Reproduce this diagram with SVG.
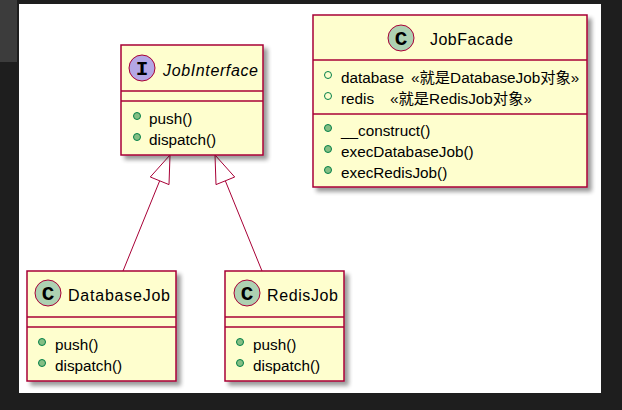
<svg xmlns="http://www.w3.org/2000/svg" width="622" height="410" viewBox="0 0 622 410">
<style>
.box{fill:#FEFECE;stroke:#A80036;stroke-width:1.5}
.sep{stroke:#A80036;stroke-width:1.5}
.cc{fill:#ADD1B2;stroke:#A80036;stroke-width:1}
.ci{fill:#B4A7E5;stroke:#A80036;stroke-width:1}
.glyph{font-family:"Liberation Mono",monospace;font-weight:bold;font-size:21px;fill:#000;text-anchor:middle}
.name{font-family:"Liberation Sans","Noto Sans CJK SC",sans-serif;font-size:16px;fill:#000}
.mem{font-family:"Liberation Sans","Noto Sans CJK SC",sans-serif;font-size:15.3px;fill:#000}
.fld{fill:none;stroke:#038048;stroke-width:1}
.mth{fill:#84BE84;stroke:#038048;stroke-width:1}
.edge{stroke:#A80036;stroke-width:1;fill:none}
.head{stroke:#A80036;stroke-width:1;fill:#FFFFFF}
</style>
<defs>
<filter id="sh" x="-10%" y="-10%" width="130%" height="130%">
<feGaussianBlur in="SourceAlpha" stdDeviation="2"/>
<feOffset dx="4" dy="4" result="o"/>
<feComponentTransfer in="o" result="s"><feFuncA type="linear" slope="0.4"/></feComponentTransfer>
<feMerge><feMergeNode in="s"/><feMergeNode in="SourceGraphic"/></feMerge>
</filter>
</defs>
<rect x="0" y="0" width="622" height="410" fill="#1E1E1E"/>
<rect x="0" y="0" width="17" height="62" fill="#3C3C3C"/>
<rect x="19" y="4" width="582" height="389" fill="#FFFFFF"/>

<g id="connectors">
<line class="edge" x1="123" y1="271" x2="159.6" y2="181"/>
<polygon class="head" points="170,155 150.3,177 169,184.6"/>
<line class="edge" x1="262" y1="271" x2="225.4" y2="181"/>
<polygon class="head" points="215,155 234.7,177 216,184.6"/>
</g>

<g id="JobInterface">
<rect class="box" x="121" y="45" width="142" height="110" filter="url(#sh)"/>
<circle class="ci" cx="142" cy="68" r="13"/>
<text class="glyph" x="142" y="75">I</text>
<text class="name" x="163" y="76" font-style="italic" textLength="95" lengthAdjust="spacing">JobInterface</text>
<line class="sep" x1="121" y1="91" x2="263" y2="91"/>
<line class="sep" x1="121" y1="101" x2="263" y2="101"/>
<circle class="mth" cx="137" cy="116" r="3.5"/>
<text class="mem" x="149" y="124">push()</text>
<circle class="mth" cx="137" cy="137" r="3.5"/>
<text class="mem" x="149" y="145">dispatch()</text>
</g>

<g id="JobFacade">
<rect class="box" x="313" y="15" width="274" height="172" filter="url(#sh)"/>
<circle class="cc" cx="401" cy="38" r="13"/>
<text class="glyph" x="401" y="45">C</text>
<text class="name" x="430" y="45" textLength="83" lengthAdjust="spacing">JobFacade</text>
<line class="sep" x1="313" y1="60" x2="587" y2="60"/>
<circle class="fld" cx="328" cy="75" r="3.5"/>
<text class="mem" x="341" y="83">database</text>
<text class="mem" x="411" y="83">«就是DatabaseJob对象»</text>
<circle class="fld" cx="328" cy="96" r="3.5"/>
<text class="mem" x="341" y="104">redis</text>
<text class="mem" x="390" y="104">«就是RedisJob对象»</text>
<line class="sep" x1="313" y1="114" x2="587" y2="114"/>
<circle class="mth" cx="328" cy="128" r="3.5"/>
<text class="mem" x="341" y="136">__construct()</text>
<circle class="mth" cx="328" cy="149" r="3.5"/>
<text class="mem" x="341" y="157">execDatabaseJob()</text>
<circle class="mth" cx="328" cy="170" r="3.5"/>
<text class="mem" x="341" y="178">execRedisJob()</text>
</g>

<g id="DatabaseJob">
<rect class="box" x="27" y="271" width="149" height="110" filter="url(#sh)"/>
<circle class="cc" cx="48" cy="293" r="13"/>
<text class="glyph" x="48" y="300">C</text>
<text class="name" x="68" y="301" textLength="102" lengthAdjust="spacing">DatabaseJob</text>
<line class="sep" x1="27" y1="317" x2="176" y2="317"/>
<line class="sep" x1="27" y1="327" x2="176" y2="327"/>
<circle class="mth" cx="42" cy="342" r="3.5"/>
<text class="mem" x="55" y="350">push()</text>
<circle class="mth" cx="42" cy="363" r="3.5"/>
<text class="mem" x="55" y="371">dispatch()</text>
</g>

<g id="RedisJob">
<rect class="box" x="225" y="271" width="119" height="110" filter="url(#sh)"/>
<circle class="cc" cx="247" cy="293" r="13"/>
<text class="glyph" x="247" y="300">C</text>
<text class="name" x="267" y="301" textLength="71" lengthAdjust="spacing">RedisJob</text>
<line class="sep" x1="225" y1="317" x2="344" y2="317"/>
<line class="sep" x1="225" y1="327" x2="344" y2="327"/>
<circle class="mth" cx="240" cy="342" r="3.5"/>
<text class="mem" x="253" y="350">push()</text>
<circle class="mth" cx="240" cy="363" r="3.5"/>
<text class="mem" x="253" y="371">dispatch()</text>
</g>
</svg>
